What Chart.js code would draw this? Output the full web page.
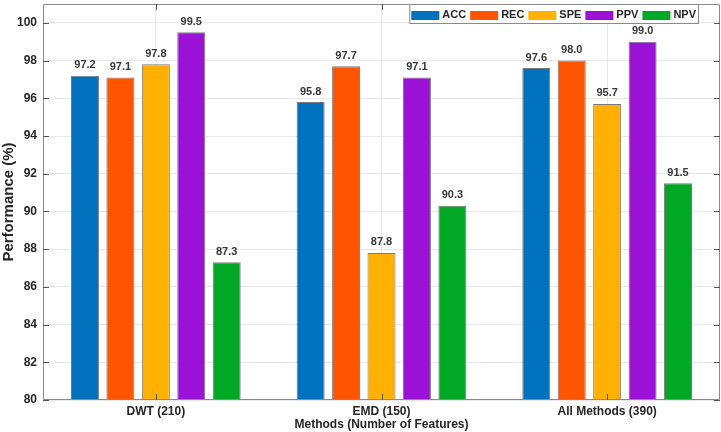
<!DOCTYPE html>
<html><head><meta charset="utf-8">
<script src="https://cdn.jsdelivr.net/npm/chart.js@4/dist/chart.umd.min.js"></script>
<style>html,body{margin:0;padding:0;background:#fff}#wrap{width:721px;height:432px;position:relative}</style>
</head><body><div id="wrap"><canvas id="c"></canvas></div>
<script>
const categories = ["DWT (210)", "EMD (150)", "All Methods (390)"];
const seriesNames = ["ACC", "REC", "SPE", "PPV", "NPV"];
const ACC = [97.2, 95.8, 97.6];
const REC = [97.1, 97.7, 98.0];
const SPE = [97.8, 87.8, 95.7];
const PPV = [99.5, 97.1, 99.0];
const NPV = [87.3, 90.3, 91.5];
const yTicks = [80, 82, 84, 86, 88, 90, 92, 94, 96, 98, 100];
const colors = ["#0072BD", "#FF5500", "#FFB000", "#9B12D6", "#00A825"];
const values = [ACC, REC, SPE, PPV, NPV];

const FONT = "'Liberation Sans', Arial, sans-serif";
const AX = "#262626";

const valueLabels = {
  id: 'valueLabels',
  afterDatasetsDraw(chart) {
    const ctx = chart.ctx;
    ctx.save();
    ctx.font = "bold 11px " + FONT;
    ctx.fillStyle = "#383838";
    ctx.textAlign = "center";
    ctx.textBaseline = "bottom";
    chart.data.datasets.forEach((ds, i) => {
      chart.getDatasetMeta(i).data.forEach((bar, j) => {
        ctx.fillText(ds.data[j].toFixed(1), bar.x, bar.y - 5);
      });
    });
    ctx.restore();
  }
};

const frame = {
  id: 'frame',
  afterDatasetsDraw(chart) {
    const ctx = chart.ctx, a = chart.chartArea;
    const ys = chart.scales.y, xs = chart.scales.x;
    ctx.save();
    ctx.strokeStyle = "#8a8a8a";
    ctx.lineWidth = 1;
    ctx.beginPath();
    ctx.rect(a.left + 0.5, a.top + 0.5, a.right - a.left - 1, a.bottom - a.top - 1);
    ctx.stroke();
    ctx.strokeStyle = "#555";
    ctx.beginPath();
    yTicks.forEach(v => {
      const y = Math.round(ys.getPixelForValue(v)) + 0.5;
      ctx.moveTo(a.left, y); ctx.lineTo(a.left + 6, y);
      ctx.moveTo(a.right, y); ctx.lineTo(a.right - 6, y);
    });
    categories.forEach((c, i) => {
      const x = Math.round(xs.getPixelForValue(i)) + 0.5;
      ctx.moveTo(x, a.bottom); ctx.lineTo(x, a.bottom - 6);
      ctx.moveTo(x, a.top); ctx.lineTo(x, a.top + 6);
    });
    ctx.stroke();
    ctx.restore();
  }
};

const legendBox = {
  id: 'legendBox',
  afterDraw(chart) {
    const ctx = chart.ctx;
    ctx.save();
    ctx.font = "bold 11px " + FONT;
    const sw = 28, gap1 = 3, gap2 = 4, padL = 2, padR = 3;
    let total = padL + padR;
    seriesNames.forEach((n, i) => {
      total += sw + gap1 + ctx.measureText(n).width + (i < seriesNames.length - 1 ? gap2 : 0);
    });
    const right = 699, top = 4, h = 20;
    const left = right - total;
    ctx.fillStyle = "#fff";
    ctx.fillRect(left, top, total, h);
    ctx.strokeStyle = "#8a8a8a";
    ctx.lineWidth = 1;
    ctx.strokeRect(left + 0.5, top + 0.5, total - 1, h - 1);
    let x = left + padL;
    seriesNames.forEach((n, i) => {
      ctx.fillStyle = colors[i];
      ctx.fillRect(x, top + 7, sw, 9);
      x += sw + gap1;
      ctx.fillStyle = AX;
      ctx.textBaseline = "middle";
      ctx.textAlign = "left";
      ctx.fillText(n, x, top + h / 2 + 1);
      x += ctx.measureText(n).width + gap2;
    });
    ctx.restore();
  }
};

new Chart(document.getElementById('c'), {
  type: 'bar',
  data: {
    labels: categories,
    datasets: seriesNames.map((n, i) => ({
      label: n,
      data: values[i],
      backgroundColor: colors[i],
      borderColor: "#7a7a7a",
      borderWidth: 1,
      borderSkipped: 'bottom',
      barPercentage: 0.79,
      categoryPercentage: 0.785
    }))
  },
  options: {
    responsive: true,
    maintainAspectRatio: false,
    animation: false,
    layout: { padding: { top: 4, right: 1, left: 0, bottom: 0 } },
    plugins: { legend: { display: false }, tooltip: { enabled: false } },
    scales: {
      x: {
        grid: { display: true, offset: false, color: "#e8e8e8", drawTicks: false },
        border: { display: false },
        ticks: { color: AX, font: { family: FONT, size: 12, weight: 'bold' }, padding: 4, maxRotation: 0 },
        title: { display: true, text: "Methods (Number of Features)", color: AX, font: { family: FONT, size: 12, weight: 'bold' }, padding: { top: 0, bottom: 0 } },
        afterFit(s) { s.height = 32; s.paddingLeft = 0; s.paddingRight = 0; }
      },
      y: {
        min: 80, max: 101,
        afterBuildTicks(s) { s.ticks = yTicks.map(v => ({ value: v })); },
        grid: { color: "#e8e8e8", drawTicks: false },
        border: { display: false },
        ticks: { color: AX, font: { family: FONT, size: 12, weight: 'bold' }, padding: 6 },
        title: { display: true, text: "Performance (%)", color: AX, font: { family: FONT, size: 15, weight: 'bold' }, padding: { top: 0, bottom: 4 } },
        afterFit(s) { s.width = 43; s.paddingTop = 0; s.paddingBottom = 0; }
      }
    }
  },
  plugins: [valueLabels, frame, legendBox]
});
</script></body></html>
